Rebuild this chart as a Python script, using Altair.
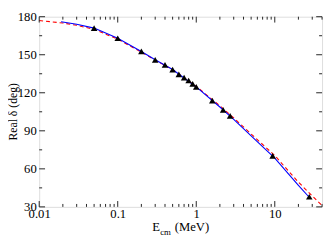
import altair as alt
import pandas as pd

# Data
tri_e = [0.05, 0.1, 0.2, 0.3, 0.4, 0.5, 0.6, 0.7, 0.8, 0.9, 1.0, 1.6, 2.2, 2.7, 9.4, 27.5]
tri_d = [171, 163, 152.6, 146, 142, 138.3, 134.5, 132, 129.7, 127, 124.6, 113.8, 106.5, 101.8, 70.3, 38]

blue_e = [0.019, 0.03, 0.05, 0.1, 0.2, 0.3, 0.5, 1.0, 2.0, 3.0, 5.0, 10.0, 20.0, 28.0]
blue_d = [176, 174, 171, 163, 152.6, 146, 138.3, 124.6, 108.8, 99, 86, 68.5, 47, 37]

red_e = [0.01, 0.02, 0.03, 0.05, 0.1, 0.2, 0.3, 0.5, 1.0, 2.0, 3.0, 5.0, 10.0, 20.0, 40.0]
red_d = [177, 175, 173.2, 170, 162.3, 152, 145.7, 138.3, 125, 109.7, 100.2, 87.5, 70.5, 49.5, 31]

x_labels = [0.01, 0.1, 1, 10]
y_labels = [30, 60, 90, 120, 150, 180]
x_minor = [0.02, 0.03, 0.04, 0.05, 0.06, 0.07, 0.08, 0.09,
           0.2, 0.3, 0.4, 0.5, 0.6, 0.7, 0.8, 0.9,
           2, 3, 4, 5, 6, 7, 8, 9, 20, 30, 40]
y_minor = [45, 75, 105, 135, 165]

W, H = 290, 195
FONT = "Liberation Serif, Times New Roman, serif"
AX = "#222222"

xs = alt.Scale(type="log", domain=[0.01, 40])
ys = alt.Scale(domain=[30, 180])

tri = pd.DataFrame({"e": tri_e, "d": tri_d})
blue = pd.DataFrame({"e": blue_e, "d": blue_d})
red = pd.DataFrame({"e": red_e, "d": red_d})

xaxis = alt.Axis(values=x_labels, ticks=False, domain=False, grid=False,
                 labelFont=FONT, labelFontSize=13, labelColor="black",
                 labelPadding=1, labelOverlap=False, labelFlush=False,
                 title=None, labelExpr="datum.value + ''")
yaxis = alt.Axis(values=y_labels, ticks=False, domain=False, grid=False,
                 labelFont=FONT, labelFontSize=13, labelColor="black",
                 labelPadding=3, labelOverlap=False, labelFlush=False,
                 labelBound=False, title=None)

red_line = alt.Chart(red).mark_line(color="#ff0000", strokeWidth=1.1,
                                    strokeDash=[4, 3]).encode(
    x=alt.X("e:Q", scale=xs, axis=xaxis),
    y=alt.Y("d:Q", scale=ys, axis=yaxis))
blue_line = alt.Chart(blue).mark_line(color="#0000ff", strokeWidth=1.1).encode(
    x=alt.X("e:Q", scale=xs, axis=xaxis), y=alt.Y("d:Q", scale=ys, axis=yaxis))
points = alt.Chart(tri).mark_point(shape="triangle-up", filled=True, color="black",
                                   size=45, opacity=1).encode(
    x=alt.X("e:Q", scale=xs, axis=xaxis), y=alt.Y("d:Q", scale=ys, axis=yaxis))

xmaj = pd.DataFrame({"e": x_labels})
xmin = pd.DataFrame({"e": x_minor})
ymaj = pd.DataFrame({"d": y_labels})
ymin = pd.DataFrame({"d": y_minor})

def xt(df, y0, y1):
    return alt.Chart(df).mark_rule(color=AX, strokeWidth=1).encode(
        x=alt.X("e:Q", scale=xs, axis=xaxis), y=alt.value(y0), y2=alt.value(y1))

def yt(df, x0, x1):
    return alt.Chart(df).mark_rule(color=AX, strokeWidth=1).encode(
        y=alt.Y("d:Q", scale=ys, axis=yaxis), x=alt.value(x0), x2=alt.value(x1))

ticks = [
    xt(xmaj, H, H - 6), xt(xmin, H, H - 3),
    xt(xmaj, 0, 6), xt(xmin, 0, 3),
    yt(ymaj, 0, 6), yt(ymin, 0, 3),
    yt(ymaj, W, W - 6), yt(ymin, W, W - 3),
]

title_df = pd.DataFrame({"t": [0]})
ytitle = alt.Chart(title_df).mark_text(text="Real δ (deg)", font=FONT, fontSize=12,
                                       angle=270, align="center", baseline="middle",
                                       color="black").encode(
    x=alt.value(-26.5), y=alt.value(H / 2))
xt_E = alt.Chart(title_df).mark_text(text="E", font=FONT, fontSize=13, align="left",
                                     baseline="alphabetic", color="black").encode(
    x=alt.value(116), y=alt.value(H + 25))
xt_cm = alt.Chart(title_df).mark_text(text="cm", font=FONT, fontSize=9, align="left",
                                      baseline="alphabetic", color="black").encode(
    x=alt.value(124), y=alt.value(H + 29))
xt_mev = alt.Chart(title_df).mark_text(text="(MeV)", font=FONT, fontSize=13, align="left",
                                       baseline="alphabetic", color="black").encode(
    x=alt.value(139), y=alt.value(H + 25))

chart = alt.layer(red_line, blue_line, points, *ticks, ytitle, xt_E, xt_cm, xt_mev).properties(
    width=W, height=H,
    autosize=alt.AutoSizeParams(type="none"),
    padding={"left": 32, "top": 6, "right": 2, "bottom": 30},
).configure_view(stroke=AX, strokeWidth=1).configure_axis(
    labelOverlap=False
).configure(background="white")

chart.save("out.html", embed_options={"renderer": "svg", "actions": False})
